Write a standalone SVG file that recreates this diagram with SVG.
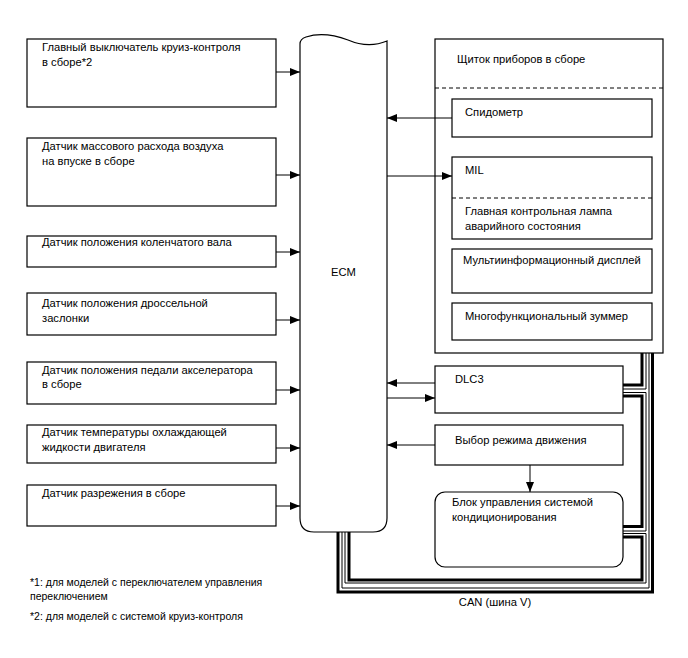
<svg xmlns="http://www.w3.org/2000/svg" width="688" height="658" viewBox="0 0 688 658">
<defs>
<marker id="ah" viewBox="0 0 10 8" refX="10" refY="4" markerWidth="10" markerHeight="8" markerUnits="userSpaceOnUse" orient="auto">
<path d="M0,0 L10,4 L0,8 Z" fill="#000"/>
</marker>
<style>
.box{fill:#fff;stroke:#000;stroke-width:1.2}
.t{font-family:"Liberation Sans",Arial,sans-serif;font-size:11.2px;fill:#000}
.fn{font-family:"Liberation Sans",Arial,sans-serif;font-size:10.5px;fill:#000}
.ar{stroke:#000;stroke-width:1;fill:none;marker-end:url(#ah)}
.dash{stroke:#000;stroke-width:1;stroke-dasharray:4 3;fill:none}
.thk{stroke:#000;stroke-width:3;fill:none}
.thn{stroke:#000;stroke-width:1;fill:none}
</style>
</defs>
<rect width="688" height="658" fill="#fff"/>

<g id="n1"><rect class="box" x="27" y="39" width="249" height="68"/>
<text class="t" x="42" y="51">Главный выключатель круиз-контроля</text>
<text class="t" x="42" y="66">в сборе*2</text></g>
<g id="n2"><rect class="box" x="27" y="138" width="249" height="68"/>
<text class="t" x="42" y="150">Датчик массового расхода воздуха</text>
<text class="t" x="42" y="165">на впуске в сборе</text></g>
<g id="n3"><rect class="box" x="27" y="236" width="249" height="31"/>
<text class="t" x="42" y="246">Датчик положения коленчатого вала</text></g>
<g id="n4"><rect class="box" x="27" y="293" width="249" height="42"/>
<text class="t" x="42" y="307">Датчик положения дроссельной</text>
<text class="t" x="42" y="322">заслонки</text></g>
<g id="n5"><rect class="box" x="27" y="362" width="249" height="42"/>
<text class="t" x="42" y="374">Датчик положения педали акселератора</text>
<text class="t" x="42" y="388">в сборе</text></g>
<g id="n6"><rect class="box" x="27" y="425" width="249" height="38"/>
<text class="t" x="42" y="436">Датчик температуры охлаждающей</text>
<text class="t" x="42" y="451">жидкости двигателя</text></g>
<g id="n7"><rect class="box" x="27" y="485" width="249" height="41"/>
<text class="t" x="42" y="497">Датчик разрежения в сборе</text></g>

<g id="ecm">
<path class="box" d="M300,44 C300,40 303,38 306,37 C318,33 332,34 348,40 C362,46 375,46 387,41 V518 Q387,532 373,532 H314 Q300,532 300,518 Z"/>
<text class="t" x="331" y="276">ECM</text></g>

<g id="panel"><rect class="box" x="435" y="39" width="228" height="314"/>
<line class="dash" x1="435" y1="88" x2="663" y2="88"/>
<text class="t" x="457" y="63">Щиток приборов в сборе</text></g>
<g id="speedo"><rect class="box" x="452" y="99" width="200" height="38"/>
<text class="t" x="465" y="116">Спидометр</text></g>
<g id="mil"><rect class="box" x="452" y="157" width="200" height="82"/>
<line class="dash" x1="452" y1="198" x2="652" y2="198"/>
<text class="t" x="465" y="174">MIL</text>
<text class="t" x="465" y="215">Главная контрольная лампа</text>
<text class="t" x="465" y="230">аварийного состояния</text></g>
<g id="mid"><rect class="box" x="452" y="249" width="200" height="44"/>
<text class="t" x="463" y="264">Мультиинформационный дисплей</text></g>
<g id="buzzer"><rect class="box" x="452" y="303" width="200" height="37"/>
<text class="t" x="465" y="320">Многофункциональный зуммер</text></g>
<g id="dlc3"><rect class="box" x="435" y="366" width="188" height="47"/>
<text class="t" x="455" y="383">DLC3</text></g>
<g id="drive"><rect class="box" x="435" y="425" width="188" height="40"/>
<text class="t" x="455" y="444">Выбор режима движения</text></g>
<g id="ac"><rect class="box" x="435" y="492" width="188" height="75" rx="10"/>
<text class="t" x="452" y="506">Блок управления системой</text>
<text class="t" x="452" y="521">кондиционирования</text></g>

<g id="connectors">
<line class="ar" x1="276" y1="72" x2="300" y2="72"/>
<line class="ar" x1="276" y1="175" x2="300" y2="175"/>
<line class="ar" x1="276" y1="252" x2="300" y2="252"/>
<line class="ar" x1="276" y1="320" x2="300" y2="320"/>
<line class="ar" x1="276" y1="390" x2="300" y2="390"/>
<line class="ar" x1="276" y1="448" x2="300" y2="448"/>
<line class="ar" x1="276" y1="506" x2="300" y2="506"/>
<line class="ar" x1="452" y1="118" x2="387" y2="118"/>
<line class="ar" x1="387" y1="176" x2="452" y2="176"/>
<line class="ar" x1="435" y1="383" x2="387" y2="383"/>
<line class="ar" x1="387" y1="398" x2="435" y2="398"/>
<line class="ar" x1="435" y1="445" x2="387" y2="445"/>
<line class="ar" x1="530" y1="465" x2="530" y2="492"/>
<path class="thk" d="M338,532 V592 H652.5 V353"/>
<path class="thn" d="M342,532 V588 H649 V353"/>
<path class="thk" d="M642,353 V385 H623"/>
<path class="thn" d="M646,353 V389 H623"/>
<path class="thn" d="M623,392.5 H646 V531 H623"/>
<path class="thk" d="M623,396 H642 V526.5 H623"/>
<path class="thn" d="M623,533.5 H646 V583 H345 V532"/>
<path class="thk" d="M623,537 H642 V580 H349 V532"/>
</g>

<text class="t" x="495" y="606" text-anchor="middle">CAN (шина V)</text>
<text class="fn" x="30" y="586">*1: для моделей с переключателем управления</text>
<text class="fn" x="30" y="600">переключением</text>
<text class="fn" x="30" y="620">*2: для моделей с системой круиз-контроля</text>
</svg>
